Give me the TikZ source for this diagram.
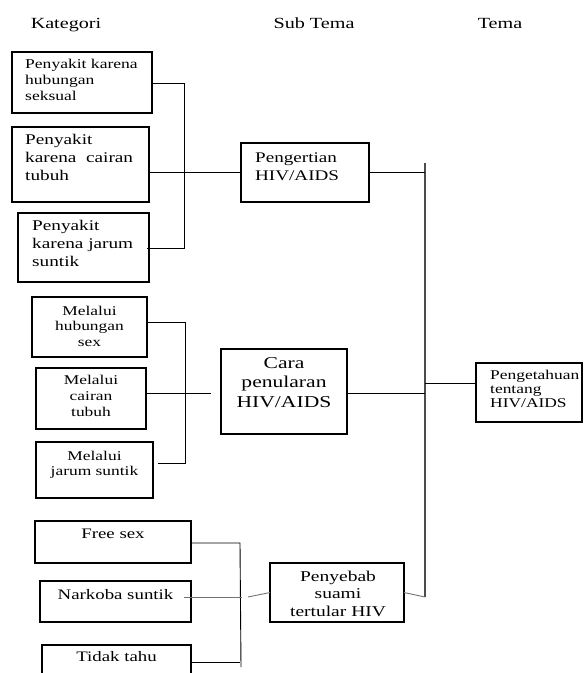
\documentclass[tikz,border=0pt]{standalone}
\usepackage{fontspec}
\setmainfont{Liberation Serif}[FakeStretch=1.3]
\newcommand\fsz[2]{\fontsize{#1}{#2}\selectfont}
\begin{document}
\begin{tikzpicture}[x=1pt,y=-1pt,
  box/.style={draw, line width=1.6pt, inner sep=0pt, outer sep=0pt, anchor=north west},
  tl/.style={anchor=base west, align=left, inner sep=0pt},
  tc/.style={anchor=base, align=center, inner sep=0pt},
  hdr/.style={anchor=base, inner sep=0pt, font=\fsz{15.5}{18}},
  ln/.style={line width=0.9pt},
  lg/.style={line width=0.9pt, draw=black!55}]
\useasboundingbox (0,0) rectangle (584,673);
% headers
\node[hdr] (h1) at (66,28) {Kategori};
\node[hdr] (h2) at (314,28) {Sub Tema};
\node[hdr] (h3) at (500,28) {Tema};
% Kategori group 1 (text positions are baselines of the last line)
\node[box, minimum width=140pt, minimum height=61pt] (k1) at (12,52) {};
\node[tl, font=\fsz{13.5}{16.2}] (k1t) at (25,100.4) {Penyakit karena\\hubungan\\seksual};
\node[box, minimum width=137pt, minimum height=75pt] (k2) at (12,127) {};
\node[tl, font=\fsz{14.8}{18}] (k2t) at (25,180) {Penyakit\\karena\ \ cairan\\tubuh};
\node[box, minimum width=131pt, minimum height=69pt] (k3) at (18,213) {};
\node[tl, font=\fsz{14.8}{18}] (k3t) at (32,266) {Penyakit\\karena jarum\\suntik};
% Melalui group
\node[box, minimum width=115pt, minimum height=60pt] (m1) at (32,297) {};
\node[tc, font=\fsz{13.4}{15.5}] (m1t) at (89.5,346) {Melalui\\hubungan\\sex};
\node[box, minimum width=110pt, minimum height=61pt] (m2) at (36,368) {};
\node[tc, font=\fsz{13.4}{16}] (m2t) at (91,416) {Melalui\\cairan\\tubuh};
\node[box, minimum width=117pt, minimum height=56pt] (m3) at (36,442) {};
\node[tc, font=\fsz{13.4}{15.5}] (m3t) at (94.5,475.5) {Melalui\\jarum suntik};
% Penyebab group
\node[box, minimum width=156pt, minimum height=42pt] (f1) at (35,521) {};
\node[tc, font=\fsz{14.5}{17}] (f1t) at (113,538) {Free sex};
\node[box, minimum width=151pt, minimum height=41pt] (f2) at (40,581) {};
\node[tc, font=\fsz{14.5}{17}] (f2t) at (115.5,599) {Narkoba suntik};
\node[box, minimum width=149pt, minimum height=60pt] (f3) at (42,645) {};
\node[tc, font=\fsz{14.5}{17}] (f3t) at (116.5,661) {Tidak tahu};
% Sub Tema
\node[box, minimum width=128pt, minimum height=59pt] (s1) at (241,143) {};
\node[tl, font=\fsz{14.7}{18}] (s1t) at (255,180) {Pengertian\\HIV/AIDS};
\node[box, minimum width=126pt, minimum height=85pt] (s2) at (221,349) {};
\node[tc, font=\fsz{16.6}{19.5}] (s2t) at (284,407) {Cara\\penularan\\HIV/AIDS};
\node[box, minimum width=134pt, minimum height=59pt] (s3) at (270,563) {};
\node[tc, font=\fsz{15}{17.5}] (s3t) at (338,616) {Penyebab\\suami\\tertular HIV};
% Tema
\node[box, minimum width=106pt, minimum height=59pt] (t1) at (476,363) {};
\node[tl, font=\fsz{13.4}{14.2}] (t1t) at (490,407.5) {Pengetahuan\\tentang\\HIV/AIDS};
% junction coordinates
\coordinate (ja) at (184,83);
\coordinate (jb) at (184,248);
\coordinate (k3s) at (147,248);
\coordinate (jc) at (185,322);
\coordinate (jd) at (185,463);
\coordinate (m3s) at (158,463);
\coordinate (m2e) at (211,393);
\coordinate (je) at (240,543);
\coordinate (jf) at (241,667);
\coordinate (jg) at (240,662);
\coordinate (f2s) at (184,597);
\coordinate (f2e) at (242,597);
\coordinate (f2r) at (248,597);
\coordinate (vt) at (425,163);
\coordinate (vb) at (425,597);
\coordinate (jt) at (425,383);
% connectors group 1
\draw[ln] (k1.east |- ja) -- (ja) -- (jb) -- (k3s);
\draw[ln] (k2.east |- s1.west) -- (s1.west);
% connectors Melalui
\draw[ln] (m1.east |- jc) -- (jc) -- (jd) -- (m3s);
\draw[ln] (m2.east |- m2e) -- (m2e);
% connectors Penyebab
\draw[ln] (f1.east |- je) -- (je) -- (jf);
\draw[ln] (f3.east |- jg) -- (jg);
\draw[lg] (f2s) -- (f2e);
\draw[lg] (f2r) -- (s3.west);
% Sub Tema to Tema
\draw[lg, line width=1.3pt, draw=black!70] (vt) -- (vb);
\draw[ln] (s1.east) -- (s1.east -| vt);
\draw[ln] (s2.east |- m2e) -- (m2e -| vt);
\draw[lg] (s3.east) -- (vb);
\draw[ln] (jt) -- (jt -| t1.west);
\end{tikzpicture}
\end{document}
